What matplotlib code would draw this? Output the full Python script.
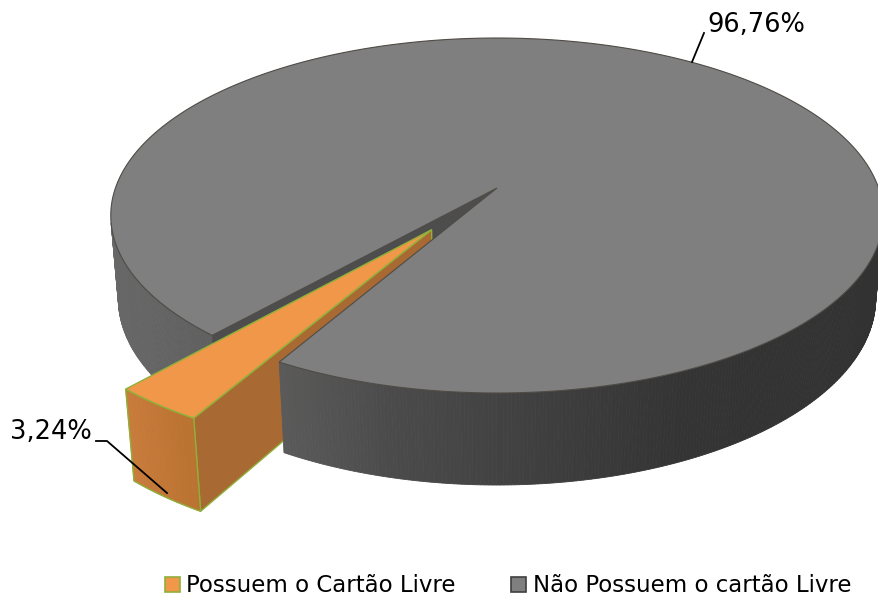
import numpy as np
import matplotlib
matplotlib.use('Agg')
import matplotlib.pyplot as plt
from matplotlib.patches import Polygon, Patch

# data
labels = ['Possuem o Cartão Livre', 'Não Possuem o cartão Livre']
values = [3.24, 96.76]
top_colors = ['#F0974A', '#7F7F7F']
edge_colors = ['#8FB03A', '#4F4B45']
explode = [0.285, 0.0]
start_angle = 209.6   # degrees, clockwise from the back

# projection of the 3d pie (pixels)
W, H = 879, 601
cx, cy = 497, 188
F = 2194.0
dist = 5.75
tilt = np.radians(27)
h = 0.2457
ct, st = np.cos(tilt), np.sin(tilt)
cam = np.array([0.0, -dist*ct, dist*st])

def proj(x, y, z):
    Yv = y*st + z*ct
    Dv = y*ct - z*st + dist
    return cx + F*x/Dv, cy - F*Yv/Dv

def rim(phi, ex, ey, z):
    r = np.radians(phi)
    return proj(ex + np.sin(r), ey + np.cos(r), z)

def lerp_col(c1, c2, t):
    a = np.array(matplotlib.colors.to_rgb(c1))
    b = np.array(matplotlib.colors.to_rgb(c2))
    t = min(max(t, 0), 1)
    return tuple(a + (b - a)*t)

def gray_wall_col(px):
    g = np.interp(px, [110, 285, 390, 680, 880], [104, 90, 75, 52, 50]) / 255
    return (g, g, g)

def orange_wall_col(px):
    return lerp_col('#C97C3C', '#B8712F', (px - 128) / 75)

fig = plt.figure(figsize=(W/100, H/100), dpi=100)
ax = fig.add_axes([0, 0, 1, 1])
ax.set_xlim(0, W)
ax.set_ylim(H, 0)
ax.axis('off')

total = sum(values)
spans = []
a0 = start_angle
for v in values:
    a1 = a0 + 360*v/total
    spans.append((a0, a1))
    a0 = a1

def wall(a0, a1, ex, ey, colfn, zo_fn):
    phis = np.linspace(a0, a1, int((a1 - a0)/0.5) + 2)
    for p0, p1 in zip(phis[:-1], phis[1:]):
        pm = np.radians((p0 + p1)/2)
        n = np.array([np.sin(pm), np.cos(pm), 0])
        pt = np.array([ex + np.sin(pm), ey + np.cos(pm), -h/2])
        if np.dot(n, cam - pt) <= 0:
            continue
        q = [rim(p0, ex, ey, 0), rim(p1, ex, ey, 0), rim(p1, ex, ey, -h), rim(p0, ex, ey, -h)]
        mx = np.mean([c[0] for c in q])
        col = colfn(mx)
        ax.add_patch(Polygon(q, closed=True, facecolor=col, edgecolor=col, lw=0.6,
                             zorder=zo_fn((p0 + p1)/2 % 360)))

def cut_face(phi, ex, ey, col, ec, zo, lw=0):
    q = [proj(ex, ey, 0), rim(phi, ex, ey, 0), rim(phi, ex, ey, -h), proj(ex, ey, -h)]
    ax.add_patch(Polygon(q, closed=True, facecolor=col, edgecolor=ec, lw=lw, zorder=zo))

def top(a0, a1, ex, ey, col, ec, zo, lw):
    phis = np.linspace(a0, a1, 400)
    pts = [proj(ex, ey, 0)] + [rim(p, ex, ey, 0) for p in phis]
    ax.add_patch(Polygon(pts, closed=True, facecolor=col, edgecolor=ec, lw=lw, zorder=zo))

# gray slice (back parts first)
g0, g1 = spans[1]
wall(g0, g1, 0, 0, gray_wall_col, lambda p: 1 if p > 215 else 5)
cut_face(g0, 0, 0, '#4D4D4D', '#4D4D4D', 2, 0.5)

# orange exploded slice
o0, o1 = spans[0]
mid = np.radians((o0 + o1)/2)
oex, oey = explode[0]*np.sin(mid), explode[0]*np.cos(mid)
cut_face(o0, oex, oey, '#A86A32', edge_colors[0], 3, 1.0)
phis = np.linspace(o0, o1, 30)
front = [rim(p, oex, oey, 0) for p in phis] + [rim(p, oex, oey, -h) for p in phis[::-1]]
wall(o0, o1, oex, oey, orange_wall_col, lambda p: 3)
ax.add_patch(Polygon(front, closed=True, facecolor='none', edgecolor=edge_colors[0], lw=1.0, zorder=3.5))
top(o0, o1, oex, oey, top_colors[0], edge_colors[0], 4, 1.0)

# gray top last
top(g0, g1, 0, 0, top_colors[1], edge_colors[1], 6, 0.8)

# data labels
pct = [('%.2f' % v).replace('.', ',') + '%' for v in values]
ax.text(707, 25, pct[1], fontsize=18.5, va='center', ha='left', color='black', zorder=7)
ax.plot([692, 704], [62, 33], color='black', lw=1.3, zorder=7)
ax.text(92, 432, pct[0], fontsize=18.5, va='center', ha='right', color='black', zorder=7)
ax.plot([96, 107, 167], [441, 441, 493], color='black', lw=1.3, zorder=7)

# legend
handles = [Patch(facecolor=top_colors[0], edgecolor=edge_colors[0], lw=1.2),
           Patch(facecolor=top_colors[1], edgecolor='#3F3F3F', lw=1.2)]
fig.legend(handles, labels, loc='center', bbox_to_anchor=(508/W, 1 - 586/H), ncol=2,
           frameon=False, fontsize=16.5, handlelength=0.65, handleheight=0.65,
           handletextpad=0.3, columnspacing=2.4, borderaxespad=0)

fig.savefig('out.png', dpi=100)
